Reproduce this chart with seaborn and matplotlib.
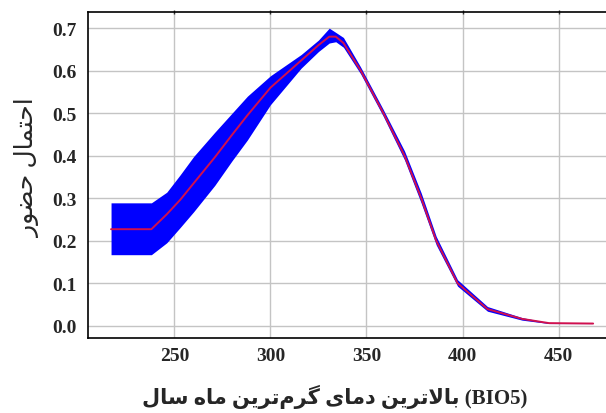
import matplotlib
matplotlib.use("Agg")
import matplotlib.pyplot as plt
import pandas as pd
import seaborn as sns

# response curve for BIO5
bio5 = [217, 238, 246, 253, 260, 271, 280, 288, 300, 316, 325, 330.6, 334, 338,
        347, 358.8, 369.8, 378.5, 386.3, 397.4, 413, 431, 445, 468]
prob = [0.227, 0.227, 0.262, 0.296, 0.335, 0.396, 0.449, 0.495, 0.560, 0.624, 0.660, 0.680, 0.680, 0.665,
        0.600, 0.500, 0.400, 0.300, 0.200, 0.100, 0.039, 0.016, 0.006, 0.005]
upper = [0.289, 0.289, 0.314, 0.355, 0.398, 0.455, 0.500, 0.540, 0.588, 0.638, 0.672, 0.700, 0.690, 0.678,
         0.608, 0.508, 0.411, 0.312, 0.210, 0.108, 0.045, 0.019, 0.007, 0.005]
lower = [0.167, 0.167, 0.195, 0.231, 0.268, 0.330, 0.388, 0.437, 0.520, 0.606, 0.645, 0.665, 0.668, 0.655,
         0.592, 0.492, 0.390, 0.288, 0.190, 0.093, 0.034, 0.013, 0.005, 0.005]

x_ticks = [250, 300, 350, 400, 450]
y_ticks = [0.0, 0.1, 0.2, 0.3, 0.4, 0.5, 0.6, 0.7]

# Persian labels, written in shaped (presentation) forms and visual order
# y: "احتمال حضور"
y_label = "\uFEAD\uFEEE\uFEC0\uFEA3 \uFEDD\uFE8E\uFEE4\uFE98\uFEA3\uFE8D"
# x: "(BIO5) بالاترین دمای گرم‌ترین ماه سال", laid out left to right
x_words = [
    "\uFEDD\uFE8E\uFEB3",                                # سال
    "\uFEE9\uFE8E\uFEE3",                                # ماه
    "\uFEE6\uFEF3\uFEAE\uFE97\uFEE1\uFEAE\uFB94",        # گرم‌ترین
    "\uFEEF\uFE8E\uFEE3\uFEA9",                          # دمای
    "\uFEE6\uFEF3\uFEAE\uFE97\uFEFB\uFE8E\uFE91",        # بالاترین
]
x_label = " ".join(x_words) + " (BIO5)"

df = pd.DataFrame({"bio5": bio5, "prob": prob, "upper": upper, "lower": lower})

sns.set_style("whitegrid")
plt.rcParams['font.family'] = ['Liberation Serif', 'DejaVu Sans']

fig = plt.figure(figsize=(6.06, 4.14), dpi=100)
ax = fig.add_axes([88 / 606, 75 / 414, 518 / 606, 326 / 414])

ax.fill_between(df["bio5"], df["lower"], df["upper"], color="#0000ff", linewidth=0)
sns.lineplot(data=df, x="bio5", y="prob", color="#d0104e", linewidth=1.4, ax=ax)

ax.set_xlim(205, 474.7)
ax.set_ylim(-0.029, 0.738)
ax.set_xticks(x_ticks)
ax.set_yticks(y_ticks)
ax.set_yticklabels([f"{v:.1f}" for v in y_ticks])

ax.grid(True, color="#c4c4c4", linewidth=1)
for side in ["left", "bottom", "top"]:
    ax.spines[side].set_visible(True)
    ax.spines[side].set_color("black")
    ax.spines[side].set_linewidth(1.2)
ax.spines["right"].set_visible(False)

ax.tick_params(axis="both", which="major", length=3, width=1, color="#333333",
               labelsize=14, pad=5)
ax.tick_params(axis="x", top=True, direction="inout")
for lbl in ax.get_xticklabels() + ax.get_yticklabels():
    lbl.set_fontweight("bold")

ax.set_xlabel(x_label, fontsize=15, fontweight="bold")
ax.xaxis.set_label_coords((335 - 88) / 518, -0.14)
ax.set_ylabel(y_label, fontsize=18)
ax.yaxis.set_label_coords(-0.093, 0.525)

fig.savefig("out.png", dpi=100)
